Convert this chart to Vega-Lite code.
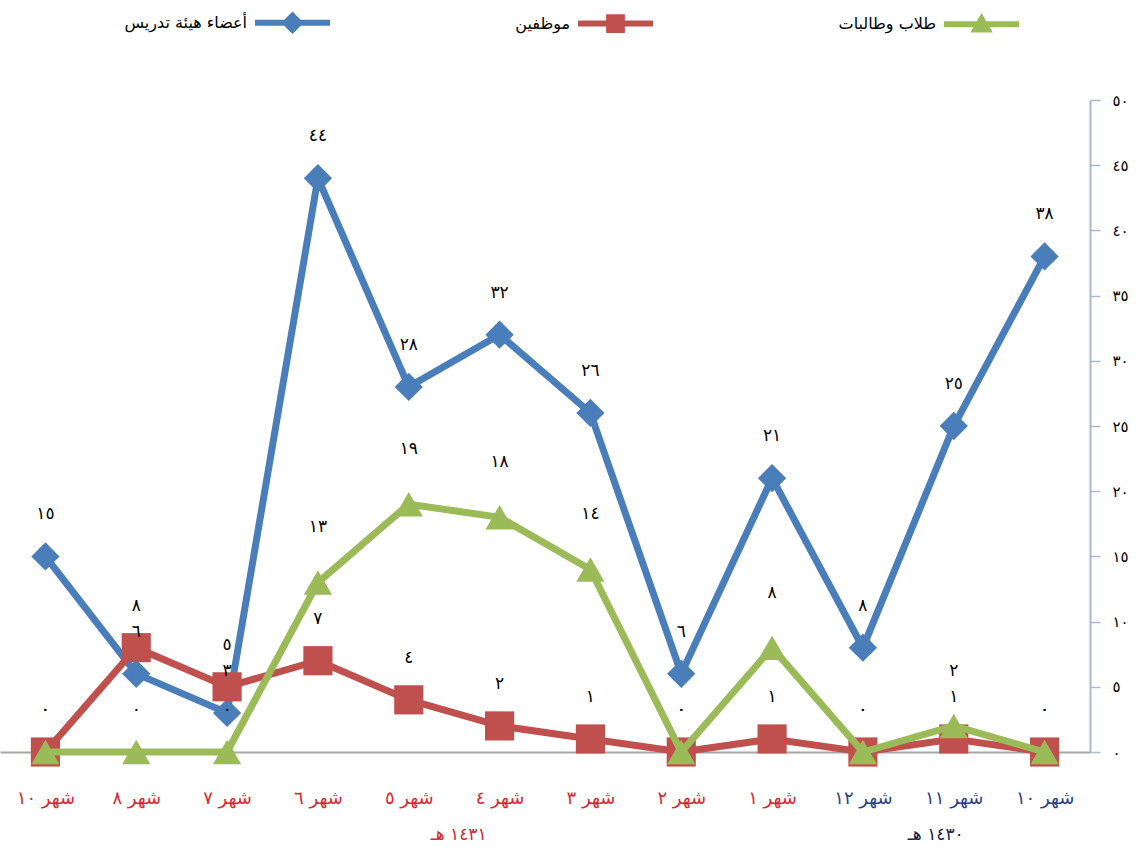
{
  "$schema": "https://vega.github.io/schema/vega-lite/v6.json",
  "autosize": {"type": "none"},
  "width": 1090,
  "height": 652,
  "padding": {"left": 0, "top": 100, "right": 49, "bottom": 103},
  "background": "white",
  "config": {
    "view": {"stroke": null},
    "font": "DejaVu Sans",
    "legend": {
      "title": null, "orient": "none", "direction": "horizontal",
      "legendX": 255, "legendY": -115,
      "symbolSize": 5625, "symbolStrokeWidth": 0, "symbolOpacity": 1,
      "labelFontSize": 16, "labelFont": "DejaVu Sans", "labelColor": "#000000",
      "labelAlign": "right", "labelOffset": -83, "columnPadding": 185, "padding": 0, "labelLimit": 400
    },
    "locale": {
      "number": {
        "decimal": ".",
        "thousands": ",",
        "grouping": [3],
        "currency": ["", ""],
        "numerals": ["٠", "١", "٢", "٣", "٤", "٥", "٦", "٧", "٨", "٩"]
      }
    }
  },
  "data": {
    "values": [
      {"key": "شهر ١٠|١٤٣١", "series": "أعضاء هيئة تدريس", "value": 15},
      {"key": "شهر ٨|١٤٣١", "series": "أعضاء هيئة تدريس", "value": 6},
      {"key": "شهر ٧|١٤٣١", "series": "أعضاء هيئة تدريس", "value": 3},
      {"key": "شهر ٦|١٤٣١", "series": "أعضاء هيئة تدريس", "value": 44},
      {"key": "شهر ٥|١٤٣١", "series": "أعضاء هيئة تدريس", "value": 28},
      {"key": "شهر ٤|١٤٣١", "series": "أعضاء هيئة تدريس", "value": 32},
      {"key": "شهر ٣|١٤٣١", "series": "أعضاء هيئة تدريس", "value": 26},
      {"key": "شهر ٢|١٤٣١", "series": "أعضاء هيئة تدريس", "value": 6},
      {"key": "شهر ١|١٤٣١", "series": "أعضاء هيئة تدريس", "value": 21},
      {"key": "شهر ١٢|١٤٣٠", "series": "أعضاء هيئة تدريس", "value": 8},
      {"key": "شهر ١١|١٤٣٠", "series": "أعضاء هيئة تدريس", "value": 25},
      {"key": "شهر ١٠|١٤٣٠", "series": "أعضاء هيئة تدريس", "value": 38},
      {"key": "شهر ١٠|١٤٣١", "series": "موظفين", "value": 0},
      {"key": "شهر ٨|١٤٣١", "series": "موظفين", "value": 8},
      {"key": "شهر ٧|١٤٣١", "series": "موظفين", "value": 5},
      {"key": "شهر ٦|١٤٣١", "series": "موظفين", "value": 7},
      {"key": "شهر ٥|١٤٣١", "series": "موظفين", "value": 4},
      {"key": "شهر ٤|١٤٣١", "series": "موظفين", "value": 2},
      {"key": "شهر ٣|١٤٣١", "series": "موظفين", "value": 1},
      {"key": "شهر ٢|١٤٣١", "series": "موظفين", "value": 0},
      {"key": "شهر ١|١٤٣١", "series": "موظفين", "value": 1},
      {"key": "شهر ١٢|١٤٣٠", "series": "موظفين", "value": 0},
      {"key": "شهر ١١|١٤٣٠", "series": "موظفين", "value": 1},
      {"key": "شهر ١٠|١٤٣٠", "series": "موظفين", "value": 0},
      {"key": "شهر ١٠|١٤٣١", "series": "طلاب وطالبات", "value": 0},
      {"key": "شهر ٨|١٤٣١", "series": "طلاب وطالبات", "value": 0},
      {"key": "شهر ٧|١٤٣١", "series": "طلاب وطالبات", "value": 0},
      {"key": "شهر ٦|١٤٣١", "series": "طلاب وطالبات", "value": 13},
      {"key": "شهر ٥|١٤٣١", "series": "طلاب وطالبات", "value": 19},
      {"key": "شهر ٤|١٤٣١", "series": "طلاب وطالبات", "value": 18},
      {"key": "شهر ٣|١٤٣١", "series": "طلاب وطالبات", "value": 14},
      {"key": "شهر ٢|١٤٣١", "series": "طلاب وطالبات", "value": 0},
      {"key": "شهر ١|١٤٣١", "series": "طلاب وطالبات", "value": 8},
      {"key": "شهر ١٢|١٤٣٠", "series": "طلاب وطالبات", "value": 0},
      {"key": "شهر ١١|١٤٣٠", "series": "طلاب وطالبات", "value": 2},
      {"key": "شهر ١٠|١٤٣٠", "series": "طلاب وطالبات", "value": 0}
    ]
  },
  "encoding": {
    "x": {
      "field": "key",
      "type": "nominal",
      "scale": {
        "type": "point",
        "padding": 0.5,
        "domain": ["شهر ١٠|١٤٣١", "شهر ٨|١٤٣١", "شهر ٧|١٤٣١", "شهر ٦|١٤٣١", "شهر ٥|١٤٣١", "شهر ٤|١٤٣١", "شهر ٣|١٤٣١", "شهر ٢|١٤٣١", "شهر ١|١٤٣١", "شهر ١٢|١٤٣٠", "شهر ١١|١٤٣٠", "شهر ١٠|١٤٣٠"]
      },
      "axis": {
        "title": null,
        "labelExpr": "split(datum.value, '|')[0]",
        "labelAngle": 0,
        "labelFontSize": 18,
        "labelFont": "DejaVu Sans",
        "labelPadding": 37,
        "labelColor": {"condition": {"test": "indexof(datum.value, '١٤٣٠') >= 0", "value": "#2b3f8e"}, "value": "#d7282f"},
        "ticks": false,
        "domainColor": "#a6a6a6",
        "domainWidth": 2,
        "grid": false
      }
    },
    "y": {
      "field": "value",
      "type": "quantitative",
      "scale": {"domain": [0, 50], "nice": false},
      "axis": {
        "title": null,
        "orient": "right",
        "values": [0, 5, 10, 15, 20, 25, 30, 35, 40, 45, 50],
        "format": "d",
        "grid": false,
        "domainColor": "#a9b9d4",
        "domainWidth": 2,
        "tickColor": "#a9b9d4",
        "tickSize": 10,
        "tickWidth": 1.5,
        "labelPadding": 12,
        "labelFontSize": 15,
        "labelColor": "#000000",
        "labelFont": "DejaVu Sans"
      }
    }
  },
  "layer": [
    {
      "transform": [{"filter": "false"}],
      "mark": {"type": "point", "filled": true},
      "encoding": {
        "color": {
          "field": "series", "type": "nominal",
          "scale": {"domain": ["أعضاء هيئة تدريس", "موظفين", "طلاب وطالبات"], "range": ["#4a7ebb", "#c0504d", "#9bbb59"]}
        },
        "shape": {
          "field": "series", "type": "nominal",
          "scale": {
            "domain": ["أعضاء هيئة تدريس", "موظفين", "طلاب وطالبات"],
            "range": [
              "M-1,-0.08L1,-0.08L1,0.08L-1,0.08Z M0,-0.3L0.3,0L0,0.3L-0.3,0Z",
              "M-1,-0.08L1,-0.08L1,0.08L-1,0.08Z M-0.25,-0.25L0.25,-0.25L0.25,0.25L-0.25,0.25Z",
              "M-1,-0.08L1,-0.08L1,0.08L-1,0.08Z M0,-0.3L0.3,0.22L-0.3,0.22Z"
            ]
          }
        }
      }
    },
    {
      "data": {"values": [{"key": "شهر ٤|١٤٣١", "label": "١٤٣١ هـ", "base": 0}]},
      "mark": {"type": "text", "dy": 83, "dx": -41, "fontSize": 17, "font": "DejaVu Sans", "color": "#d7282f", "baseline": "middle"},
      "encoding": {
        "y": {"field": "base", "type": "quantitative"},
        "text": {"field": "label", "type": "nominal"}
      }
    },
    {
      "data": {"values": [{"key": "شهر ١١|١٤٣٠", "label": "١٤٣٠ هـ", "base": 0}]},
      "mark": {"type": "text", "dy": 83, "dx": -18, "fontSize": 17, "font": "DejaVu Sans", "color": "#1c2248", "baseline": "middle"},
      "encoding": {
        "y": {"field": "base", "type": "quantitative"},
        "text": {"field": "label", "type": "nominal"}
      }
    },
    {
      "transform": [{"filter": "datum.series === 'أعضاء هيئة تدريس'"}],
      "mark": {"type": "line", "strokeWidth": 7, "point": {"shape": "diamond", "size": 800, "filled": true, "opacity": 1}},
      "encoding": {
        "color": {"field": "series", "type": "nominal"}
      }
    },
    {
      "transform": [{"filter": "datum.series === 'موظفين'"}],
      "mark": {"type": "line", "strokeWidth": 7, "point": {"shape": "square", "size": 850, "filled": true, "opacity": 1}},
      "encoding": {
        "color": {"field": "series", "type": "nominal"}
      }
    },
    {
      "transform": [{"filter": "datum.series === 'طلاب وطالبات'"}],
      "mark": {"type": "line", "strokeWidth": 7, "point": {"shape": "triangle-up", "size": 800, "filled": true, "opacity": 1}},
      "encoding": {
        "color": {"field": "series", "type": "nominal"}
      }
    },
    {
      "transform": [{"filter": "datum.series !== 'طلاب وطالبات' || datum.value === 0"}],
      "mark": {"type": "text", "dy": -42, "fontSize": 17, "font": "DejaVu Sans", "color": "#000000", "baseline": "middle"},
      "encoding": {
        "text": {"field": "value", "type": "quantitative", "format": "d"}
      }
    },
    {
      "transform": [{"filter": "datum.series === 'طلاب وطالبات' && datum.value > 0"}],
      "mark": {"type": "text", "dy": -55, "fontSize": 17, "font": "DejaVu Sans", "color": "#000000", "baseline": "middle"},
      "encoding": {
        "text": {"field": "value", "type": "quantitative", "format": "d"}
      }
    }
  ]
}
